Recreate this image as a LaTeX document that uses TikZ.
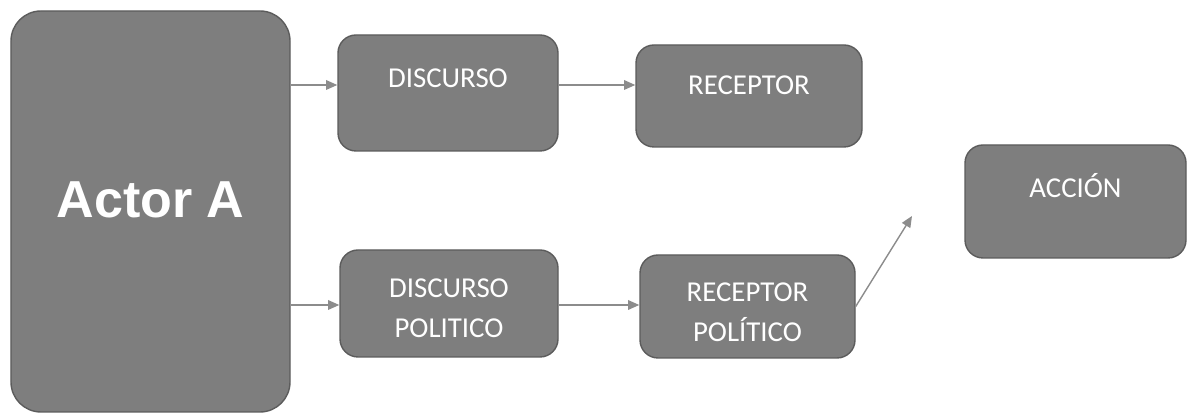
\documentclass[tikz,border=0pt]{standalone}
\usepackage{fontspec}
\setmainfont{Carlito}
\newfontfamily\actorfont{Liberation Sans}
\usetikzlibrary{arrows.meta}
\definecolor{boxfill}{RGB}{126,126,126}
\definecolor{boxline}{RGB}{92,92,92}
\definecolor{linkgray}{RGB}{140,140,140}

\begin{document}
\begin{tikzpicture}

			\tikzstyle{box}=[draw=boxline, fill=boxfill, line width=1pt, rounded corners=4.5mm, inner sep=0pt]
			\tikzstyle{big box}=[box, rounded corners=7.5mm]
			\tikzstyle{box text}=[white, align=center, inner sep=0pt, font=\fontsize{20.5}{28.5}\selectfont]
			\tikzstyle{link}=[linkgray, line width=1pt, -{Triangle[length=2.8mm, width=2.4mm]}]

		\useasboundingbox (0,0) rectangle (29.675,10.375);

		%rows of the arrows
		\coordinate (toprow) at (0,8.25);
		\coordinate (botrow) at (0,2.75);
		\coordinate (toaccion) at (22.8,4.975);

		%actor
		\node [big box, minimum width=6.975cm, minimum height=10.025cm] (actor) at (3.7625,5.0875) {};
		\node [white, inner sep=0pt, font=\actorfont\bfseries\fontsize{37}{40}\selectfont] (actor-t) at ([yshift=2.9mm]actor.center) {Actor A};

		%upper row
		\node [box, minimum width=5.5cm, minimum height=2.9cm] (disc) at (11.2,8.05) {};
		\node [box text] (disc-t) at ([yshift=3.75mm]disc.center) {DISCURSO};
		\node [box, minimum width=5.65cm, minimum height=2.55cm] (rec) at (18.725,7.975) {};
		\node [box text] (rec-t) at ([yshift=2.75mm]rec.center) {RECEPTOR};

		%lower row
		\node [box, minimum width=5.45cm, minimum height=2.675cm] (discpol) at (11.225,2.7875) {};
		\node [box text] (discpol-t) at ([yshift=-1.1mm]discpol.center) {DISCURSO\\POLITICO};
		\node [box, minimum width=5.375cm, minimum height=2.575cm] (recpol) at (18.6875,2.7125) {};
		\node [box text] (recpol-t) at ([yshift=-1.4mm]recpol.center) {RECEPTOR\\POLÍTICO};

		%action
		\node [box, minimum width=5.525cm, minimum height=2.825cm] (accion) at (26.8875,5.3375) {};
		\node [box text] (accion-t) at ([yshift=3.9mm]accion.center) {ACCIÓN};

		%arrows
		\draw [link] (actor.east |- toprow) -- (disc.west |- toprow);
		\draw [link] (disc.east |- toprow) -- (rec.west |- toprow);
		\draw [link] (actor.east |- botrow) -- (discpol.west |- botrow);
		\draw [link] (discpol.east |- botrow) -- (recpol.west |- botrow);
		\draw [link] (recpol.east) -- (toaccion);

		\end{tikzpicture}
\end{document}
